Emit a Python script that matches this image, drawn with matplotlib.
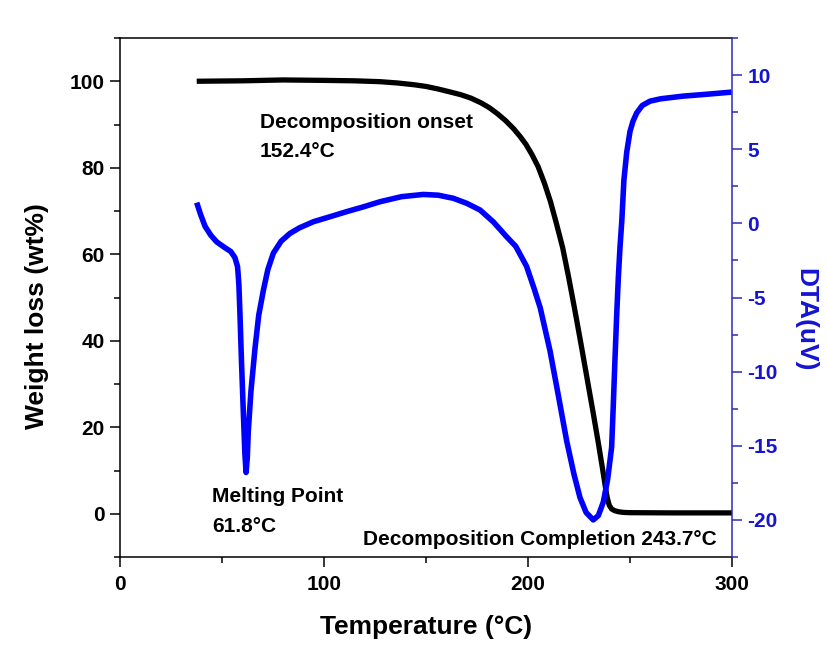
import matplotlib
matplotlib.use("Agg")
import matplotlib.pyplot as plt
from matplotlib.ticker import MultipleLocator

plt.rcParams['font.family'] = ['Liberation Sans', 'DejaVu Sans']
plt.rcParams['font.weight'] = 'bold'
plt.rcParams['axes.unicode_minus'] = False

# Thermogravimetric curve: temperature (°C) vs remaining weight (wt%)
tga_temp = [37.6, 60, 80, 100, 115, 127.5, 136, 144, 150, 156, 162, 167, 172,
            177, 181, 185, 189, 193, 196, 199, 202, 205, 208, 211, 214, 217,
            220, 223, 226, 229, 232, 234.5, 236.5, 237.8, 238.8, 239.8, 241,
            242.5, 244.5, 247, 250, 270, 300]
tga_weight = [100.0, 100.1, 100.3, 100.2, 100.1, 99.9, 99.6, 99.2, 98.8, 98.2,
              97.5, 96.9, 96.1, 95.0, 93.9, 92.5, 90.9, 89.0, 87.3, 85.4, 83.0,
              80.2, 76.5, 72.2, 67.0, 61.5, 54.5, 47.0, 39.2, 31.2, 23.2, 16.3,
              10.5, 6.6, 3.8, 2.0, 1.1, 0.7, 0.45, 0.3, 0.25, 0.2, 0.2]

# Differential thermal analysis signal (uV)
dta_temp = [37.6, 39.5, 41.7, 44.5, 47.4, 51, 54.3, 56.3, 57.6, 57.9, 58.3,
            58.8, 59.6, 60.5, 61.2, 61.8, 62.4, 62.9, 64.2, 66.2, 68, 70.3,
            72.5, 75.2, 79, 83.3, 88, 94.8, 103, 111.1, 119, 127.5, 138, 148.7,
            156, 163.4, 170, 176.5, 183, 189.5, 194, 199.3, 203, 206, 210.8,
            215, 219, 222.5, 225.5, 228.5, 232, 234.5, 236.9, 239, 241, 241.8,
            242.6, 243.5, 244.3, 245.1, 246, 247, 248.4, 250, 251.5, 253.3,
            256, 259.8, 265, 276, 287, 299.8]
dta_signal = [1.4, 0.6, -0.2, -0.8, -1.25, -1.6, -1.9, -2.3, -2.9, -3.4, -4.2,
              -6.1, -9.5, -12.9, -15.5, -16.8, -15.8, -14.0, -11.3, -8.4, -6.2,
              -4.5, -3.1, -2.0, -1.2, -0.68, -0.3, 0.11, 0.45, 0.79, 1.1, 1.46,
              1.8, 1.95, 1.9, 1.69, 1.35, 0.9, 0.1, -0.9, -1.55, -2.9, -4.4,
              -5.7, -8.6, -11.7, -14.7, -16.9, -18.5, -19.5, -20.0, -19.7,
              -18.8, -17.3, -15.1, -12.3, -9.3, -6.1, -3.6, -1.6, 0.2, 2.9,
              4.8, 6.2, 6.9, 7.45, 7.95, 8.24, 8.4, 8.58, 8.7, 8.85]

x_ticks = [0, 100, 200, 300]
left_ticks = [0, 20, 40, 60, 80, 100]
right_ticks = [-20, -15, -10, -5, 0, 5, 10]

blue = '#0000ff'
axis_blue = '#2b2bc4'
label_blue = '#1414d2'

fig = plt.figure(figsize=(8.28, 6.46), dpi=100)
ax = fig.add_axes([120 / 828, 89 / 646, 612 / 828, 519 / 646])
ax2 = ax.twinx()

ax.plot(tga_temp, tga_weight, color='black', lw=3.8, solid_capstyle='butt',
        solid_joinstyle='round')
ax2.plot(dta_temp, dta_signal, color=blue, lw=4.0, solid_capstyle='butt',
         solid_joinstyle='round')

ax.set_xlim(0, 300)
ax.set_ylim(-10, 110)
ax2.set_ylim(-22.5, 12.5)

ax.set_xticks(x_ticks)
ax.set_yticks(left_ticks)
ax2.set_yticks(right_ticks)
ax.xaxis.set_minor_locator(MultipleLocator(50))
ax.yaxis.set_minor_locator(MultipleLocator(10))
ax2.yaxis.set_minor_locator(MultipleLocator(2.5))

for a in (ax, ax2):
    for s in a.spines.values():
        s.set_linewidth(1.1)

ax.spines['right'].set_visible(False)
for side in ('left', 'top', 'bottom'):
    ax2.spines[side].set_visible(False)
ax2.spines['right'].set_color(axis_blue)

ax.tick_params(axis='both', which='major', direction='out', length=7,
               width=1.1, labelsize=15, pad=4)
ax.tick_params(axis='x', which='major', pad=6)
ax.tick_params(axis='both', which='minor', direction='out', length=4,
               width=1.1)
ax.tick_params(axis='x', which='both', top=False)
ax2.tick_params(axis='y', which='major', direction='out', length=7,
                width=1.1, labelsize=15, pad=4, colors=axis_blue,
                labelcolor=label_blue)
ax2.tick_params(axis='y', which='minor', direction='out', length=4,
                width=1.1, colors=axis_blue)

for lab in ax.get_xticklabels() + ax.get_yticklabels() + ax2.get_yticklabels():
    lab.set_fontweight('bold')

fig.text(426 / 828, 1 - 627 / 646, 'Temperature (°C)', ha='center',
         va='center', fontsize=19, fontweight='bold')
fig.text(37 / 828, 1 - 316 / 646, 'Weight loss (wt%)', ha='center',
         va='center', rotation=90, fontsize=19, fontweight='bold')
fig.text(805 / 828, 1 - 320 / 646, 'DTA(uV)', ha='center', va='center',
         rotation=-90, fontsize=19, fontweight='bold', color=label_blue)

ax.text(68.6, 90.4, 'Decomposition onset', ha='left', va='center',
        fontsize=15, fontweight='bold')
ax.text(68.6, 83.8, '152.4°C', ha='left', va='center', fontsize=15,
        fontweight='bold')
ax.text(45, 4.1, 'Melting Point', ha='left', va='center', fontsize=15,
        fontweight='bold')
ax.text(45, -2.85, '61.8°C', ha='left', va='center', fontsize=15,
        fontweight='bold')
ax.text(119.1, -5.9, 'Decomposition Completion 243.7°C', ha='left',
        va='center', fontsize=15, fontweight='bold')

fig.savefig('out.png', dpi=100)
